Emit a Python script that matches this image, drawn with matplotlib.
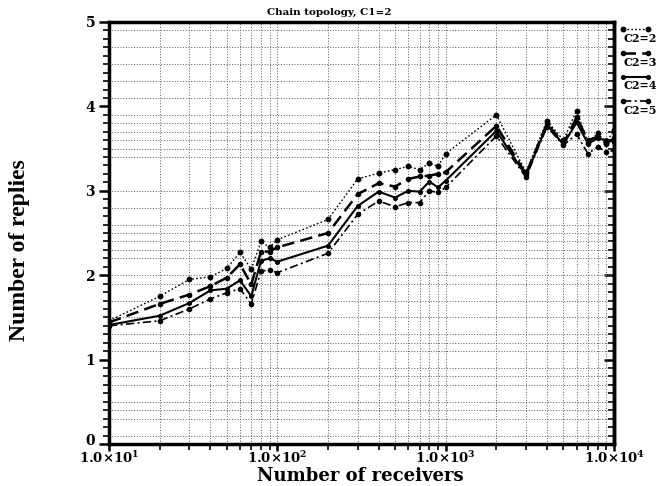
import matplotlib
matplotlib.use("Agg")
import matplotlib.pyplot as plt
from matplotlib.lines import Line2D
from matplotlib.transforms import ScaledTranslation
from matplotlib.ticker import FixedLocator, LogLocator, NullFormatter, FixedFormatter

# ---- data ----
receivers = [10, 20, 30, 40, 50, 60, 70, 80, 90, 100, 200, 300, 400, 500, 600, 700,
             800, 900, 1000, 2000, 3000, 4000, 5000, 6000, 7000, 8000, 9000, 10000]
c2_2 = [1.46, 1.75, 1.95, 1.98, 2.08, 2.27, 2.07, 2.40, 2.33, 2.42, 2.66, 3.14, 3.21, 3.25,
        3.29, 3.25, 3.33, 3.29, 3.44, 3.90, 3.22, 3.83, 3.60, 3.95, 3.57, 3.68, 3.57, 3.72]
c2_3 = [1.44, 1.66, 1.77, 1.87, 1.97, 2.13, 1.89, 2.28, 2.28, 2.33, 2.50, 2.96, 3.09, 3.05,
        3.14, 3.17, 3.18, 3.20, 3.22, 3.77, 3.20, 3.80, 3.56, 3.87, 3.60, 3.64, 3.56, 3.62]
c2_4 = [1.41, 1.52, 1.67, 1.82, 1.84, 1.94, 1.75, 2.17, 2.20, 2.16, 2.35, 2.82, 2.99, 2.92,
        3.00, 2.99, 3.11, 3.04, 3.12, 3.71, 3.18, 3.78, 3.55, 3.81, 3.56, 3.62, 3.60, 3.58]
c2_5 = [1.40, 1.46, 1.60, 1.72, 1.79, 1.84, 1.66, 2.05, 2.06, 2.03, 2.26, 2.72, 2.88, 2.81,
        2.86, 2.86, 3.00, 2.98, 3.04, 3.65, 3.16, 3.76, 3.54, 3.67, 3.44, 3.52, 3.46, 3.48]
series_labels = ["C2=2", "C2=3", "C2=4", "C2=5"]
x_ticks = [10, 100, 1000, 10000]
x_tick_labels = [r"$\mathbf{1.0{\times}10^{1}}$", r"$\mathbf{1.0{\times}10^{2}}$",
                 r"$\mathbf{1.0{\times}10^{3}}$", r"$\mathbf{1.0{\times}10^{4}}$"]
y_ticks = [0, 1, 2, 3, 4, 5]
title = "Chain topology, C1=2"
xlabel = "Number of receivers"
ylabel = "Number of replies"

# ---- style ----
plt.rcParams['mathtext.fontset'] = 'custom'
plt.rcParams['mathtext.bf'] = 'DejaVu Serif:bold'
plt.rcParams['mathtext.rm'] = 'DejaVu Serif'
serif_bold = dict(family='DejaVu Serif', weight='bold')

fig = plt.figure(figsize=(6.59, 4.86), dpi=100)
ax = fig.add_axes([109/659, 1-444/486, (614-109)/659, (444-22)/486])

styles = [
    dict(ls=(0, (1.2, 1.6)), lw=1.0, marker='o', ms=3.2),
    dict(ls=(0, (5, 2.5)), lw=1.8, marker='o', ms=3.0),
    dict(ls='-', lw=1.5, marker='o', ms=2.6),
    dict(ls=(0, (5, 2, 1.2, 2)), lw=1.2, marker='o', ms=3.0),
]
for ys, st in zip([c2_2, c2_3, c2_4, c2_5], styles):
    ax.plot(receivers, ys, color='black', linestyle=st['ls'], linewidth=st['lw'],
            marker=st['marker'], markersize=st['ms'], zorder=3)

ax.set_xscale('log')
ax.set_xlim(10, 10000)
ax.set_ylim(0, 5)

# grid
grid_y = [0.1, 0.3, 0.4, 0.5, 0.7, 0.8, 0.9, 1.1, 1.2, 1.3, 1.5, 1.7, 1.9, 2.0, 2.2, 2.3,
          2.4, 2.5, 2.6, 2.8, 3.0, 3.4, 3.5, 3.6, 3.7, 3.8, 3.9, 4.1, 4.3, 4.5, 4.7, 4.9]
grid_kw = dict(color='#5a5a5a', lw=0.7, ls=(0, (1, 1.8)), zorder=1)
for gy in grid_y:
    ax.axhline(gy, **grid_kw)
for dec in [10, 100, 1000]:
    for m in range(2, 10):
        ax.axvline(dec*m, **grid_kw)
    if dec > 10:
        ax.axvline(dec, **grid_kw)

# ticks
ax.xaxis.set_major_locator(FixedLocator(x_ticks))
ax.xaxis.set_major_formatter(FixedFormatter(x_tick_labels))
ax.xaxis.set_minor_locator(LogLocator(base=10, subs=range(2, 10)))
ax.xaxis.set_minor_formatter(NullFormatter())
ax.yaxis.set_major_locator(FixedLocator(y_ticks))
ax.yaxis.set_minor_locator(FixedLocator([i/10 for i in range(51)]))
ax.tick_params(axis='y', which='major', direction='out', length=7, width=1.8,
               labelsize=10, pad=3)
ax.tick_params(axis='y', which='minor', direction='out', length=4, width=1.2)
ax.tick_params(axis='x', which='major', direction='out', length=5, width=1.8,
               labelsize=9.5, pad=-0.5)
ax.tick_params(axis='x', which='minor', direction='out', length=4, width=1.2)
for lab in ax.get_xticklabels() + ax.get_yticklabels():
    lab.set_fontfamily('DejaVu Serif')
    lab.set_fontweight('bold')
for lab in ax.get_yticklabels():
    lab.set_verticalalignment('center_baseline')

sec = ax.secondary_yaxis('right')
sec.yaxis.set_major_locator(FixedLocator(y_ticks))
sec.yaxis.set_minor_locator(FixedLocator([i/10 for i in range(51)]))
sec.tick_params(which='major', direction='in', length=7, width=1.8, labelright=False)
sec.tick_params(which='minor', direction='in', length=4, width=1.2)
sec.spines['right'].set_linewidth(2.5)

for sp in ax.spines.values():
    sp.set_linewidth(2.5)

# nudge the "0" label slightly upward so it clears the first x tick label
fig.canvas.draw()
zero_lab = ax.yaxis.get_majorticklabels()[0]
zero_lab.set_transform(zero_lab.get_transform() + ScaledTranslation(0, 3/72, fig.dpi_scale_trans))

# texts
fig.text(0.5, 1-12/486, title, ha='center', va='center', fontsize=7.5, **serif_bold)
fig.text(360/659, 1-475.5/486, xlabel, ha='center', va='center', fontsize=13, **serif_bold)
fig.text(20/659, 1-250/486, ylabel, ha='center', va='center', rotation=90,
         fontsize=17, family='Liberation Serif', weight='bold')

# legend (line sample above label)
leg_line_y = [29, 53, 77, 101.5]
leg_text_y = [38.5, 62, 85.5, 110]
for lab, st, ly, ty in zip(series_labels, styles, leg_line_y, leg_text_y):
    fig.add_artist(Line2D([623/659, 648/659], [1-ly/486, 1-ly/486], color='black',
                          linestyle=st['ls'], linewidth=st['lw'], marker='o',
                          markersize=st['ms'], transform=fig.transFigure))
    fig.text(623/659, 1-ty/486, lab, ha='left', va='center', fontsize=8, **serif_bold)

fig.savefig('out.png', dpi=100)
